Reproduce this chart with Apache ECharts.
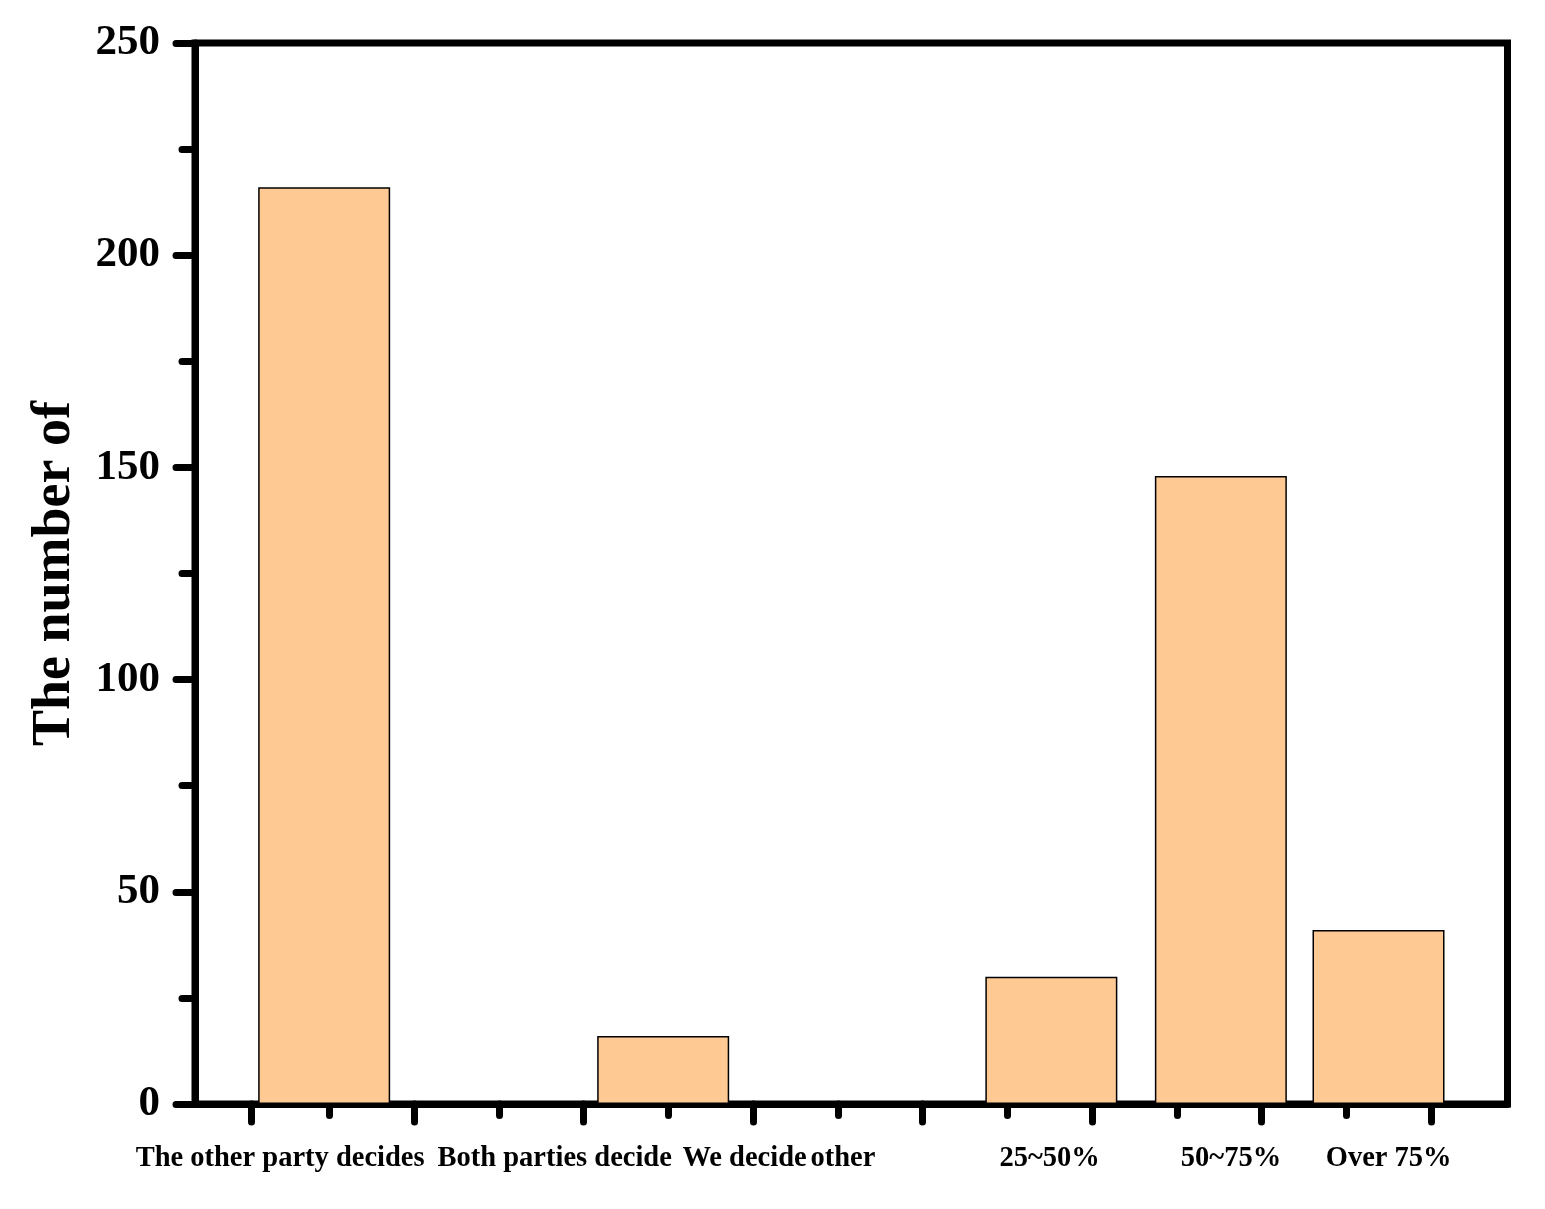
<!DOCTYPE html>
<html>
<head>
<meta charset="utf-8">
<script src="https://cdn.jsdelivr.net/npm/echarts@6/dist/echarts.min.js"></script>
<style>
  html, body { margin: 0; padding: 0; background: #fff; }
  #chart { width: 1545px; height: 1209px; }
</style>
</head>
<body>
<div id="chart"></div>
<script>
// 柱子位置和数值
const barX = [1.47, 3.47, 5.76, 6.76, 7.69];
const barValues = [216, 16, 30, 148, 41];
// x轴文字标签及位置
const labelText = ['The other party decides', 'Both parties decide', 'We decide', 'other', '25~50%', '50~75%', 'Over 75%'];
const labelPos = [1.21, 2.83, 3.95, 4.53, 5.75, 6.82, 7.75];
// x轴刻度
const majorTicks = [1.04, 2, 3, 4, 5, 6, 7, 8];
const minorTicks = [1.5, 2.5, 3.5, 4.5, 5.5, 6.5, 7.5];

const font = 'Liberation Serif';
const xMin = 0.708, xMax = 8.451;

const chart = echarts.init(document.getElementById('chart'));
chart.setOption({
    animation: false,
    backgroundColor: '#fff',
    grid: {
        left: 195, top: 43, right: 37.5, bottom: 105,
        show: true, borderColor: '#000', borderWidth: 7, backgroundColor: 'transparent'
    },
    xAxis: [{
        type: 'value', min: xMin, max: xMax,
        splitLine: { show: false },
        axisLine: { show: true, lineStyle: { color: '#000', width: 7 } },
        axisTick: { show: true, customValues: majorTicks, length: 18, lineStyle: { color: '#000', width: 7, cap: 'round' } },
        axisLabel: {
            customValues: labelPos, margin: 40,
            color: '#000', fontFamily: font, fontWeight: 'bold', fontSize: 28.5,
            formatter: v => labelText[labelPos.indexOf(v)] || ''
        }
    }, {
        // 次刻度
        type: 'value', min: xMin, max: xMax, position: 'bottom',
        splitLine: { show: false },
        axisLine: { show: false },
        axisTick: { show: true, customValues: minorTicks, length: 11.5, lineStyle: { color: '#000', width: 7, cap: 'round' } },
        axisLabel: { show: false }
    }],
    yAxis: {
        type: 'value', min: 0, max: 250, interval: 50,
        name: 'The number of', nameLocation: 'middle', nameGap: 113,
        nameTextStyle: { color: '#000', fontFamily: font, fontWeight: 'bold', fontSize: 54 },
        splitLine: { show: false },
        axisLine: { show: true, lineStyle: { color: '#000', width: 7 } },
        axisTick: { show: true, length: 19, lineStyle: { color: '#000', width: 7, cap: 'round' } },
        minorTick: { show: true, splitNumber: 2, length: 13, lineStyle: { color: '#000', width: 7, cap: 'round' } },
        axisLabel: { margin: 35, color: '#000', fontFamily: font, fontWeight: 'bold', fontSize: 43 }
    },
    series: [{
        type: 'bar',
        xAxisIndex: 0,
        barWidth: 132,
        data: barX.map((x, i) => [x, barValues[i]]),
        itemStyle: { color: '#FFC994', borderColor: '#000', borderWidth: 1.5 }
    }]
});
window.addEventListener('resize', () => {
    chart.resize();
});
</script>
</body>
</html>
